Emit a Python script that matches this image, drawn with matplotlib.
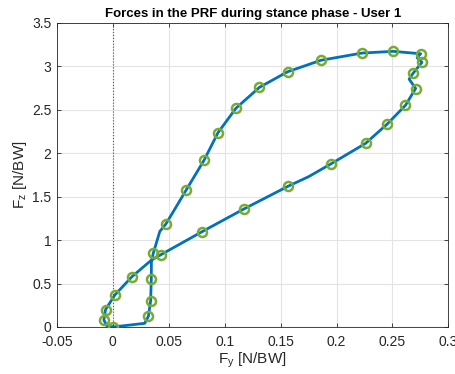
import matplotlib
matplotlib.use('Agg')
import matplotlib.pyplot as plt

# sampled force trajectory (line) and marked samples (circles)
fy_line = [0, 0.0285, 0.0318, 0.0338, 0.0344, 0.0345, 0.0362, 0.042, 0.0474, 0.0565, 0.0655,
           0.0815, 0.094, 0.110, 0.131, 0.1563, 0.186, 0.2227, 0.2506, 0.2752, 0.272,
           0.2764, 0.2684, 0.2649, 0.2707, 0.2616, 0.2453, 0.226, 0.1948, 0.175, 0.157,
           0.1174, 0.0795, 0.0427, 0.0345, 0.0172, 0.0018, -0.0065, -0.008, -0.005, 0]
fz_line = [0, 0.042, 0.123, 0.30, 0.55, 0.75, 0.85, 1.10, 1.185, 1.38, 1.575,
           1.918, 2.236, 2.517, 2.758, 2.938, 3.07, 3.153, 3.173, 3.145, 3.10,
           3.047, 2.92, 2.853, 2.746, 2.551, 2.336, 2.114, 1.876, 1.73, 1.622,
           1.36, 1.095, 0.83, 0.77, 0.58, 0.368, 0.20, 0.08, 0.005, 0]

fy_mark = [0, 0.0318, 0.0338, 0.0344, 0.0362, 0.0474, 0.0655, 0.0815, 0.094, 0.110,
           0.131, 0.1563, 0.186, 0.2227, 0.2506, 0.2752, 0.2764, 0.2684, 0.2707, 0.2616,
           0.2453, 0.226, 0.1948, 0.157, 0.1174, 0.0795, 0.0427, 0.0172, 0.0018,
           -0.0065, -0.008]
fz_mark = [0, 0.123, 0.30, 0.55, 0.85, 1.185, 1.575, 1.918, 2.236, 2.517,
           2.758, 2.938, 3.07, 3.153, 3.173, 3.145, 3.047, 2.92, 2.742, 2.551,
           2.336, 2.114, 1.876, 1.622, 1.36, 1.095, 0.83, 0.58, 0.368,
           0.20, 0.08]

xticks = [-0.05, 0, 0.05, 0.1, 0.15, 0.2, 0.25, 0.3]
yticks = [0, 0.5, 1, 1.5, 2, 2.5, 3, 3.5]

plt.rcParams['font.family'] = ['Liberation Sans', 'DejaVu Sans']

fig = plt.figure(figsize=(4.55, 3.74), dpi=100)
ax = fig.add_axes([0.125, 0.1257, 0.8605, 0.813])

ax.grid(True, color='#e3e3e3', linewidth=0.8)
ax.set_axisbelow(True)
ax.axvline(0, color='#555555', linestyle=':', linewidth=0.8)
ax.axhline(0, color='#555555', linestyle=':', linewidth=0.8)

ax.plot(fy_line, fz_line, color='#0072bd', linewidth=2, zorder=3)
ax.plot(fy_mark, fz_mark, linestyle='none', marker='o', markersize=6.5,
        markerfacecolor='none', markeredgecolor='#77ac30', markeredgewidth=1.8, zorder=4)

ax.set_xlim(-0.05, 0.3)
ax.set_ylim(0, 3.5)
ax.set_xticks(xticks)
ax.set_yticks(yticks)
ax.set_xticklabels(['-0.05', '0', '0.05', '0.1', '0.15', '0.2', '0.25', '0.3'])
ax.set_yticklabels(['0', '0.5', '1', '1.5', '2', '2.5', '3', '3.5'])
ax.tick_params(direction='in', top=True, right=True, length=3, labelsize=10,
               colors='#262626', width=0.6)
ax.tick_params(axis='x', pad=6)
ax.tick_params(axis='y', pad=4)
for s in ax.spines.values():
    s.set_color('#262626')
    s.set_linewidth(0.6)

ax.set_xlabel(r'F$_\mathregular{y}$ [N/BW]', fontsize=11, color='#262626', labelpad=1)
ax.set_ylabel(r'F$_\mathregular{z}$ [N/BW]', fontsize=11, color='#262626', labelpad=2)
ax.set_title('Forces in the PRF during stance phase - User 1', fontsize=9.5,
             fontweight='bold', pad=4)

fig.savefig('out.png', dpi=100)
